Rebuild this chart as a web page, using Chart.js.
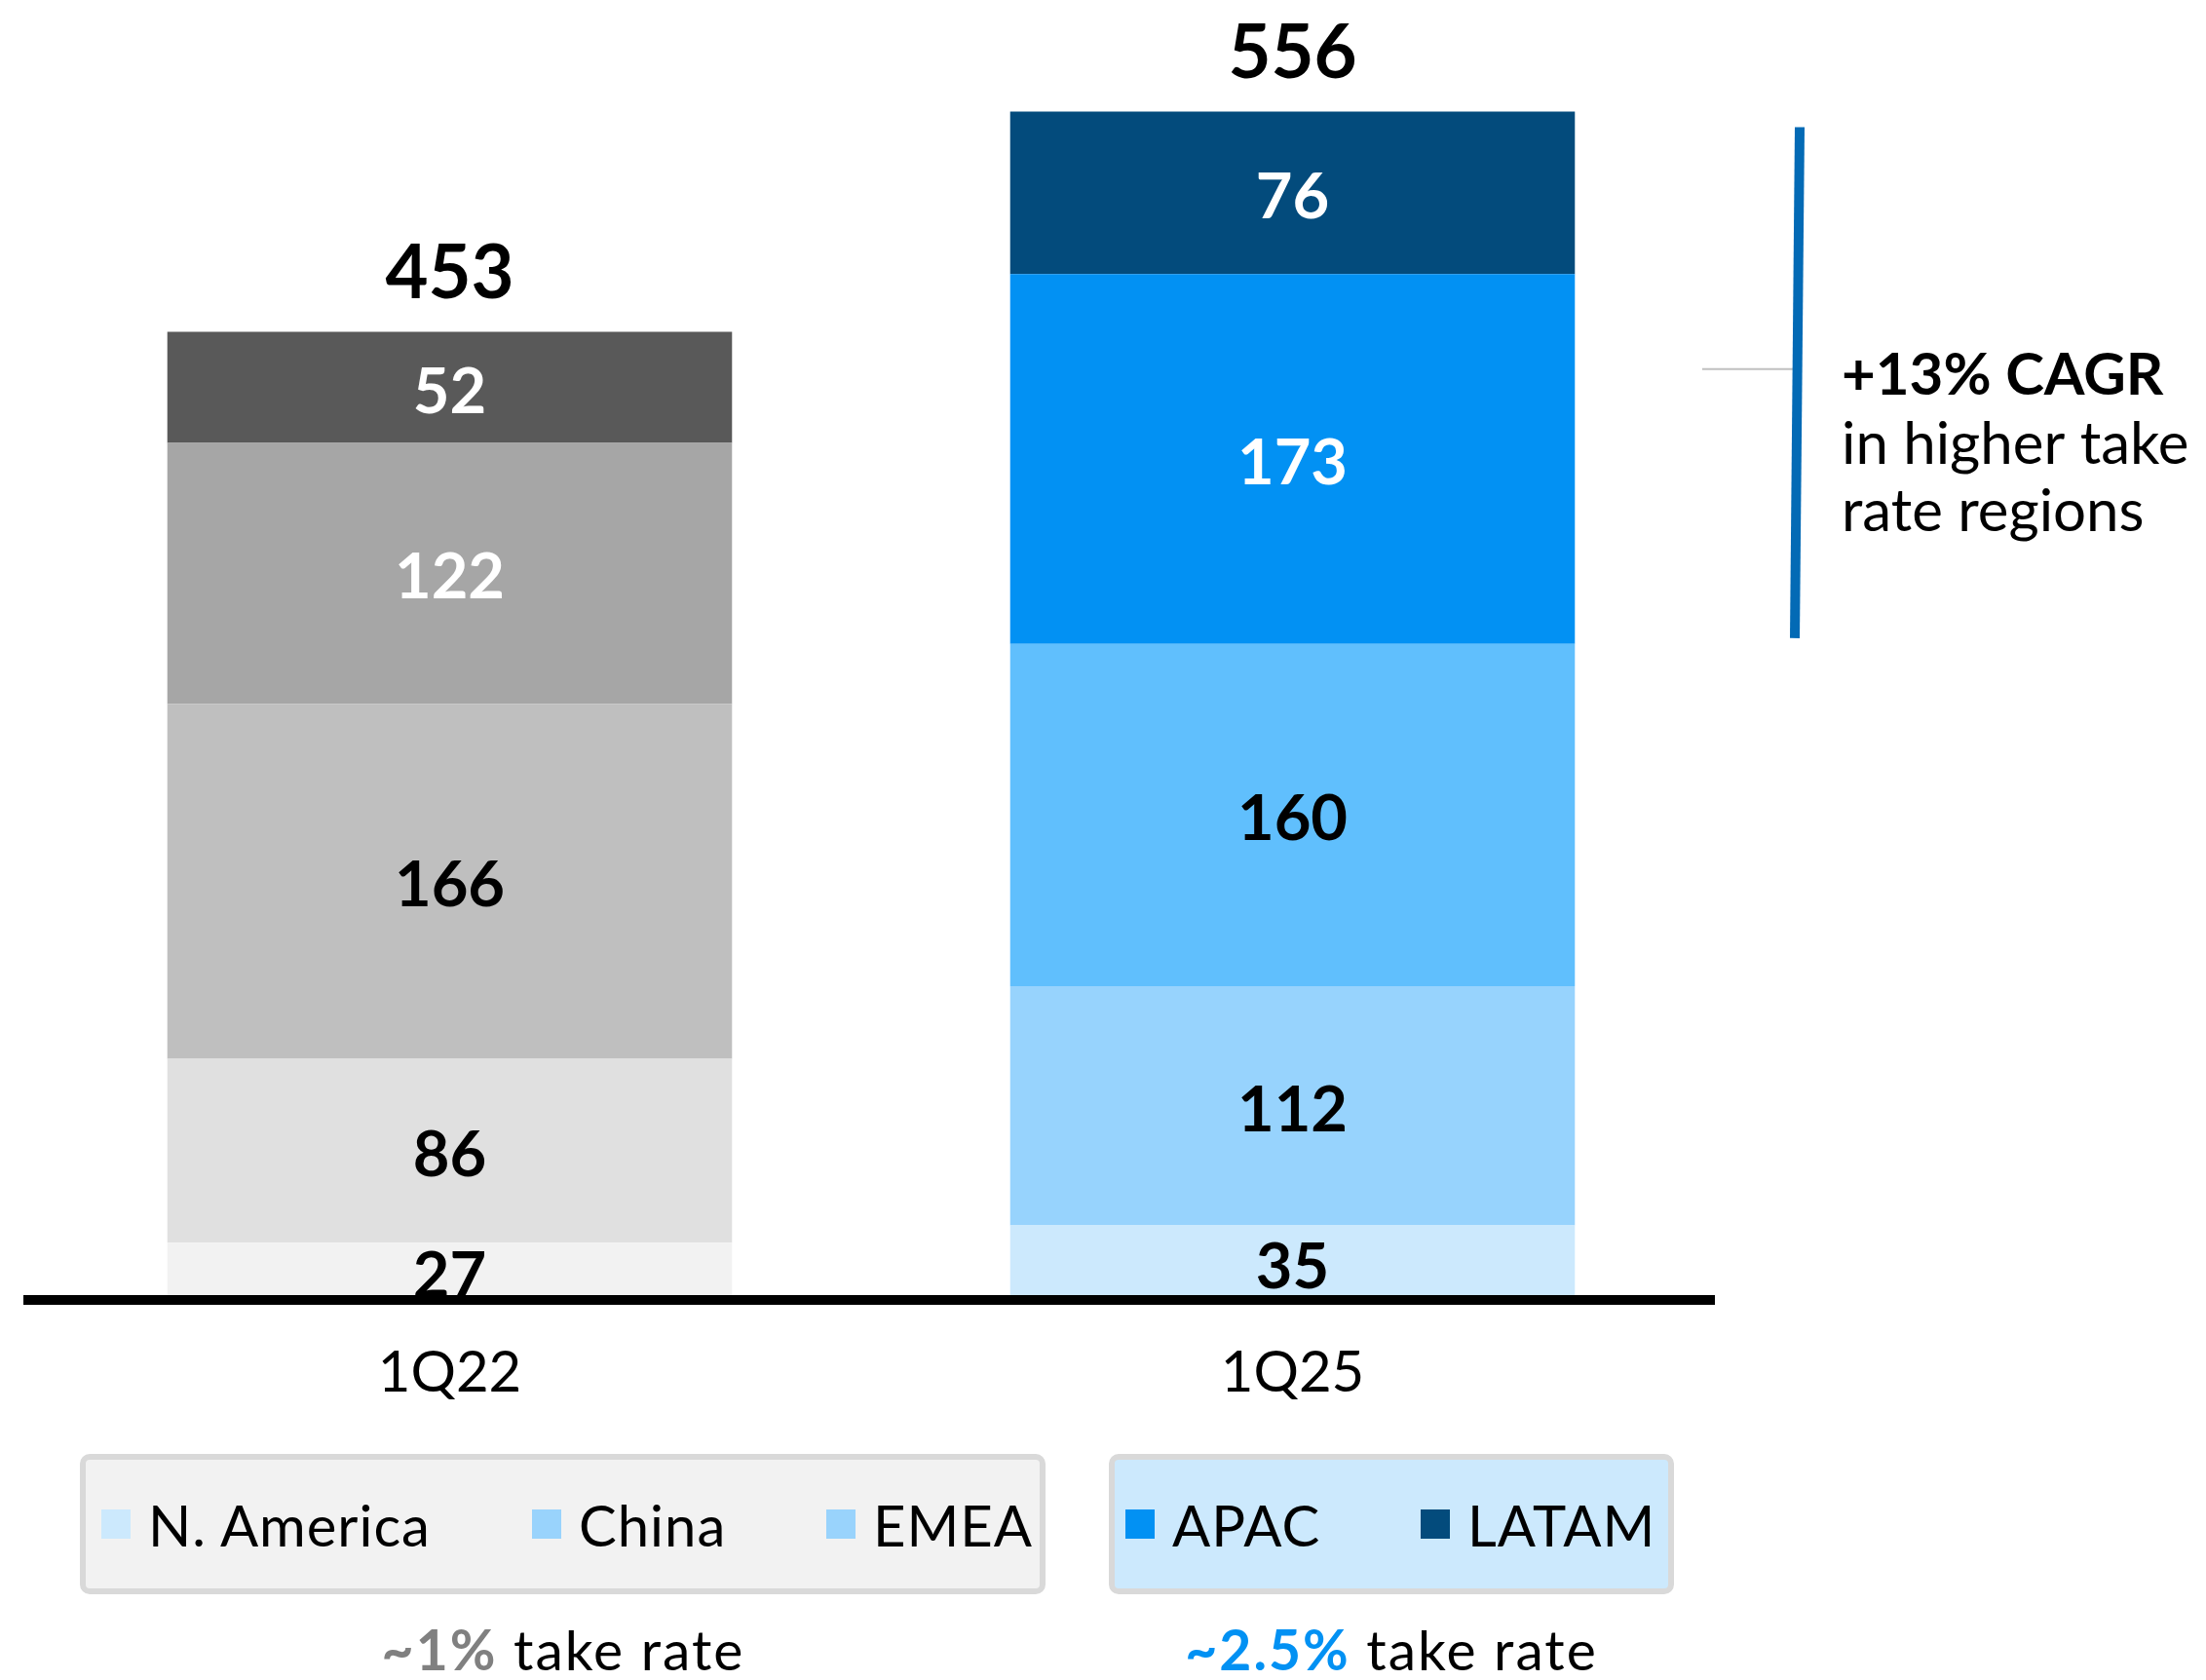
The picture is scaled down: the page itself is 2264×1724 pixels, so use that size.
<!DOCTYPE html>
<html>
<head>
<meta charset="utf-8">
<script src="https://cdn.jsdelivr.net/npm/chart.js@4.4.1/dist/chart.umd.min.js"></script>
<style>
  body { margin: 0; background: #fff; font-family: Lato, "Open Sans", sans-serif; }
  #wrap { position: relative; width: 2264px; height: 1724px; }
  #chart { position: absolute; left: 0; top: 0; }
  .box { position: absolute; top: 1492px; height: 144px; box-sizing: border-box;
         border: 6px solid #d9d9d9; border-radius: 10px; }
  .item { position: absolute; top: 0; height: 132px; display: flex; align-items: center;
          font-size: 58px; letter-spacing: 1px; color: #000; white-space: nowrap; }
  .item i { display: inline-block; width: 30px; height: 30px; margin-right: 18px; }
  .rate { position: absolute; top: 1658px; font-size: 57px; letter-spacing: 2px; color: #000;
          white-space: nowrap; transform: translateX(-50%); }
  .rate b { font-weight: 700; }
</style>
</head>
<body>
<div id="wrap">
  <canvas id="chart" width="2264" height="1724"></canvas>
</div>
<script>
// quarters on the x axis
const categories = ['1Q22', '1Q25'];
const regions = ['N. America', 'China', 'EMEA', 'APAC', 'LATAM'];

// values per region, [1Q22, 1Q25]
const nAmerica = [27, 35];
const china = [86, 112];
const emea = [166, 160];
const apac = [122, 173];
const latam = [52, 76];
const totals = [453, 556];

// colours: grey for 1Q22, blue for 1Q25
const greyColors = ['#f2f2f2', '#e0e0e0', '#bfbfbf', '#a6a6a6', '#595959'];
const blueColors = ['#cce9fd', '#97d3fd', '#60bffd', '#0291f3', '#034b7c'];
const labelColors = ['#000', '#000', '#000', '#fff', '#fff'];
const legendColors = ['#cce9fd', '#99d3fc', '#99d3fc', '#0291f3', '#034b7c'];

const series = [nAmerica, china, emea, apac, latam];
const FONT = 'Lato, "Open Sans", sans-serif';

/**
 * Writes the value of every segment in its middle, and the totals on top.
 */
const valueLabels = {
  id: 'valueLabels',
  afterDatasetsDraw(chart) {
    const ctx = chart.ctx;
    ctx.save();
    ctx.textAlign = 'center';
    ctx.textBaseline = 'middle';
    ctx.font = 'bold 65px ' + FONT;
    chart.data.datasets.forEach((ds, i) => {
      const meta = chart.getDatasetMeta(i);
      meta.data.forEach((bar, j) => {
        ctx.fillStyle = labelColors[i];
        const y = (bar.y + bar.base) / 2 + 5;
        ctx.fillText(String(ds.data[j]), bar.x, y);
      });
    });
    // totals
    const top = chart.getDatasetMeta(series.length - 1);
    ctx.font = 'bold 76px ' + FONT;
    ctx.fillStyle = '#000';
    top.data.forEach((bar, j) => {
      ctx.fillText(String(totals[j]), bar.x, bar.y - 59);
    });
    ctx.restore();
  }
};

/**
 * Bracket over the higher take rate regions (APAC + LATAM) of 1Q25.
 */
const cagrNote = {
  id: 'cagrNote',
  afterDraw(chart) {
    const ctx = chart.ctx;
    const yScale = chart.scales.y;
    const yTop = yScale.getPixelForValue(totals[1]) + 16;
    const yBot = yScale.getPixelForValue(totals[1] - apac[1] - latam[1]) - 6;
    const yMid = (yTop + yBot) / 2 - 14;
    ctx.save();
    ctx.strokeStyle = '#c0c0c0';
    ctx.lineWidth = 2;
    ctx.beginPath();
    ctx.moveTo(1747, yMid);
    ctx.lineTo(1842, yMid);
    ctx.stroke();
    ctx.strokeStyle = '#036ab5';
    ctx.lineWidth = 10;
    ctx.beginPath();
    ctx.moveTo(1847, yTop);
    ctx.lineTo(1842, yBot);
    ctx.stroke();

    ctx.fillStyle = '#000';
    ctx.textAlign = 'left';
    ctx.textBaseline = 'alphabetic';
    ctx.font = 'bold 60px ' + FONT;
    ctx.fillText('+13% CAGR', 1890, 405);
    ctx.font = '60px ' + FONT;
    ctx.fillText('in higher take', 1890, 476);
    ctx.fillText('rate regions', 1890, 545);
    ctx.restore();
  }
};

const datasets = regions.map((name, i) => ({
  label: name,
  data: series[i],
  backgroundColor: [greyColors[i], blueColors[i]],
  borderWidth: 0,
  barPercentage: 1.0,
  categoryPercentage: 0.67,
}));

new Chart(document.getElementById('chart'), {
  type: 'bar',
  data: { labels: categories, datasets },
  options: {
    responsive: false,
    animation: false,
    layout: { padding: { left: 29, right: 505, top: 18, bottom: 240 } },
    scales: {
      x: {
        stacked: true,
        grid: { display: false, drawTicks: false },
        border: { display: true, color: '#000', width: 10, z: 1 },
        ticks: { color: '#000', padding: 40, font: { family: FONT, size: 58 } },
      },
      y: {
        stacked: true,
        display: false,
        min: 0,
        max: 600,
      }
    },
    plugins: {
      legend: { display: false },
      tooltip: { enabled: false }
    }
  },
  plugins: [valueLabels, cagrNote]
});

// legend boxes and take rate notes
const wrap = document.getElementById('wrap');
function addBox(left, width, bg) {
  const b = document.createElement('div');
  b.className = 'box';
  b.style.left = left + 'px';
  b.style.width = width + 'px';
  b.style.background = bg;
  wrap.appendChild(b);
  return b;
}
const leftBox = addBox(82, 991, '#f2f2f2');
const rightBox = addBox(1138, 580, '#cce9fd');
const itemLeft = [16, 458, 760, 11, 314];
regions.forEach((name, i) => {
  const it = document.createElement('div');
  it.className = 'item';
  it.style.left = itemLeft[i] + 'px';
  it.innerHTML = '<i style="background:' + legendColors[i] + '"></i>' + name;
  (i < 3 ? leftBox : rightBox).appendChild(it);
});
function addRate(cx, pct, color) {
  const r = document.createElement('div');
  r.className = 'rate';
  r.style.left = cx + 'px';
  r.innerHTML = '<b style="color:' + color + '">' + pct + '</b> take rate';
  wrap.appendChild(r);
}
addRate(578, '~1%', '#808080');
addRate(1428, '~2.5%', '#0291f3');
</script>
</body>
</html>
